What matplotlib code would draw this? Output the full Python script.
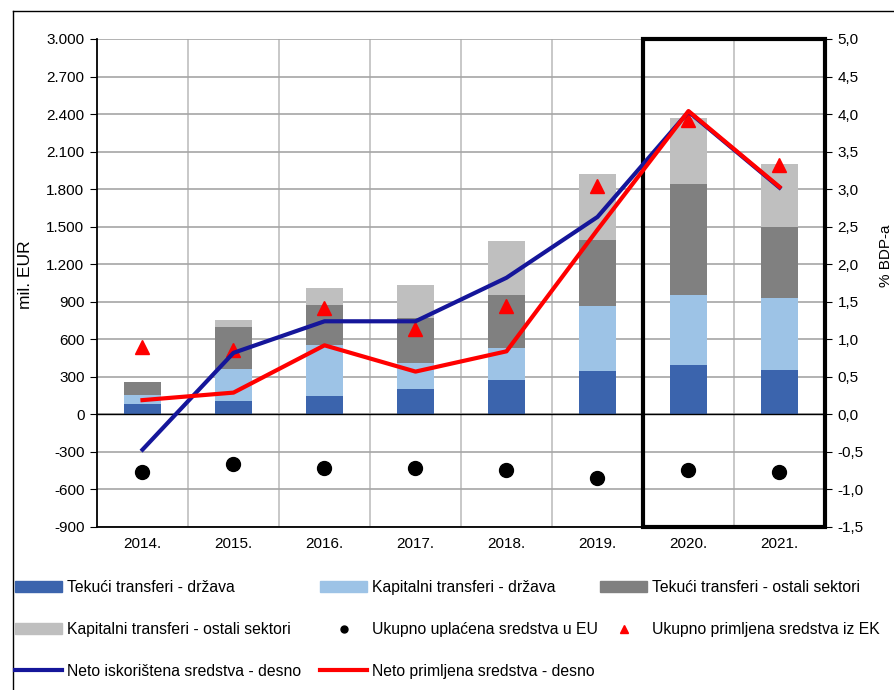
import numpy as np
import matplotlib
matplotlib.use('Agg')
import matplotlib.pyplot as plt
from matplotlib.patches import Rectangle, Patch
from matplotlib.lines import Line2D

plt.rcParams['font.family'] = ['Liberation Sans', 'DejaVu Sans']
plt.rcParams['font.size'] = 11

# data (mil. EUR for bars and markers, % BDP for lines)
years = ['2014.', '2015.', '2016.', '2017.', '2018.', '2019.', '2020.', '2021.']
tek_drzava = [82, 107, 144, 200, 275, 349, 397, 357]
kap_drzava = [75, 256, 411, 213, 256, 515, 555, 574]
tek_ostali = [101, 333, 322, 360, 424, 531, 888, 568]
kap_ostali = [0, 59, 134, 264, 429, 528, 528, 506]
uplaceno_eu = [-461, -395, -429, -427, -443, -509, -448, -461]
primljeno_ek = [540, 515, 853, 685, 867, 1824, 2350, 1997]
neto_iskoristeno = [-0.47, 0.82, 1.24, 1.24, 1.82, 2.63, 4.03, 3.02]
neto_primljeno = [0.19, 0.29, 0.92, 0.57, 0.84, 2.46, 4.04, 3.03]

left_ticks = [-900, -600, -300, 0, 300, 600, 900, 1200, 1500, 1800, 2100, 2400, 2700, 3000]
left_labels = ['-900', '-600', '-300', '0', '300', '600', '900', '1.200', '1.500',
               '1.800', '2.100', '2.400', '2.700', '3.000']
right_ticks = [-1.5, -1.0, -0.5, 0.0, 0.5, 1.0, 1.5, 2.0, 2.5, 3.0, 3.5, 4.0, 4.5, 5.0]
right_labels = ['-1,5', '-1,0', '-0,5', '0,0', '0,5', '1,0', '1,5', '2,0', '2,5',
                '3,0', '3,5', '4,0', '4,5', '5,0']

c_tek_drz = '#3B64AD'
c_kap_drz = '#9DC3E6'
c_tek_ost = '#808080'
c_kap_ost = '#BFBFBF'
c_blue = '#15169A'
c_red = '#FF0000'

fig = plt.figure(figsize=(8.95, 6.9), dpi=100)
ax = fig.add_axes([97/895, 1-527/690, (825-97)/895, (527-39)/690])
ax2 = ax.twinx()

x = np.arange(len(years))
w = 0.4
b1 = np.array(tek_drzava)
b2 = b1 + np.array(kap_drzava)
b3 = b2 + np.array(tek_ostali)
ax.bar(x, tek_drzava, w, color=c_tek_drz, zorder=2)
ax.bar(x, kap_drzava, w, bottom=b1, color=c_kap_drz, zorder=2)
ax.bar(x, tek_ostali, w, bottom=b2, color=c_tek_ost, zorder=2)
ax.bar(x, kap_ostali, w, bottom=b3, color=c_kap_ost, zorder=2)
ax.plot(x, uplaceno_eu, 'o', color='black', ms=10, zorder=3)
ax.plot(x, primljeno_ek, '^', color=c_red, ms=10, zorder=3)
ax.axhline(0, color='black', lw=1, zorder=2)

ax.set_xlim(-0.5, 7.5)
ax.set_ylim(-900, 3000)
ax.set_yticks(left_ticks)
ax.set_yticklabels(left_labels)
ax.set_xticks(x)
ax.set_xticklabels(years)
ax.set_xticks(np.arange(0.5, 7.5, 1), minor=True)
ax.tick_params(axis='x', which='both', length=0, pad=7)
ax.tick_params(axis='y', direction='out', length=5, pad=4)
ax.set_axisbelow(True)
ax.grid(axis='y', color='#A6A6A6', lw=1.2)
ax.grid(axis='x', which='minor', color='#BFBFBF', lw=1.2)
ax.spines['top'].set_visible(False)
ax.spines['left'].set_linewidth(1.3)
ax.spines['bottom'].set_linewidth(1.3)
ax.set_ylabel('mil. EUR', fontsize=12.5)
ax.yaxis.set_label_coords((33-97)/728, 1 - (275-39)/488)

ax2.plot(x, neto_iskoristeno, color=c_blue, lw=3, zorder=4)
ax2.plot(x, neto_primljeno, color=c_red, lw=3, zorder=5)
ax2.set_ylim(-1.5, 5.0)
ax2.set_yticks(right_ticks)
ax2.set_yticklabels(right_labels)
ax2.tick_params(axis='y', direction='out', length=5, pad=4)
for s in ['top', 'left', 'bottom']:
    ax2.spines[s].set_visible(False)
ax2.set_ylabel('% BDP-a', fontsize=11)
ax2.yaxis.set_label_coords(1 + (879-825)/728, 1 - (256-39)/488)

# highlight box 2020-2021
box = Rectangle((5.5, -900), 2, 3900, fill=False, edgecolor='black', lw=3,
                clip_on=False, zorder=10)
ax.add_patch(box)

# outer border (left and top visible)
fig.add_artist(Line2D([13/895, 13/895], [0, 1-11/690], transform=fig.transFigure,
                      color='black', lw=1))
fig.add_artist(Line2D([13/895, 1], [1-11/690, 1-11/690], transform=fig.transFigure,
                      color='black', lw=1))

# legend - three columns placed separately, read row by row
h = [Patch(color=c_tek_drz), Patch(color=c_kap_drz), Patch(color=c_tek_ost),
     Patch(color=c_kap_ost),
     Line2D([], [], ls='none', marker='o', color='black', ms=5),
     Line2D([], [], ls='none', marker='^', color=c_red, ms=6),
     Line2D([], [], color=c_blue, lw=3), Line2D([], [], color=c_red, lw=3)]
l = ['Tekući transferi - država', 'Kapitalni transferi - država',
     'Tekući transferi - ostali sektori', 'Kapitalni transferi - ostali sektori',
     'Ukupno uplaćena sredstva u EU', 'Ukupno primljena sredstva iz EK',
     'Neto iskorištena sredstva - desno', 'Neto primljena sredstva - desno']
cols = [[0, 3, 6], [1, 4, 7], [2, 5]]
col_x = [15, 320, 600]
for idx, cx in zip(cols, col_x):
    fig.legend([h[i] for i in idx], [l[i] for i in idx], ncol=1,
               loc='upper left', bbox_to_anchor=(cx/895, 1-580/690), frameon=False,
               borderpad=0, borderaxespad=0, handlelength=3.0, handletextpad=0.3,
               labelspacing=1.72, fontsize=11.3)

fig.savefig('out.png', dpi=100)
